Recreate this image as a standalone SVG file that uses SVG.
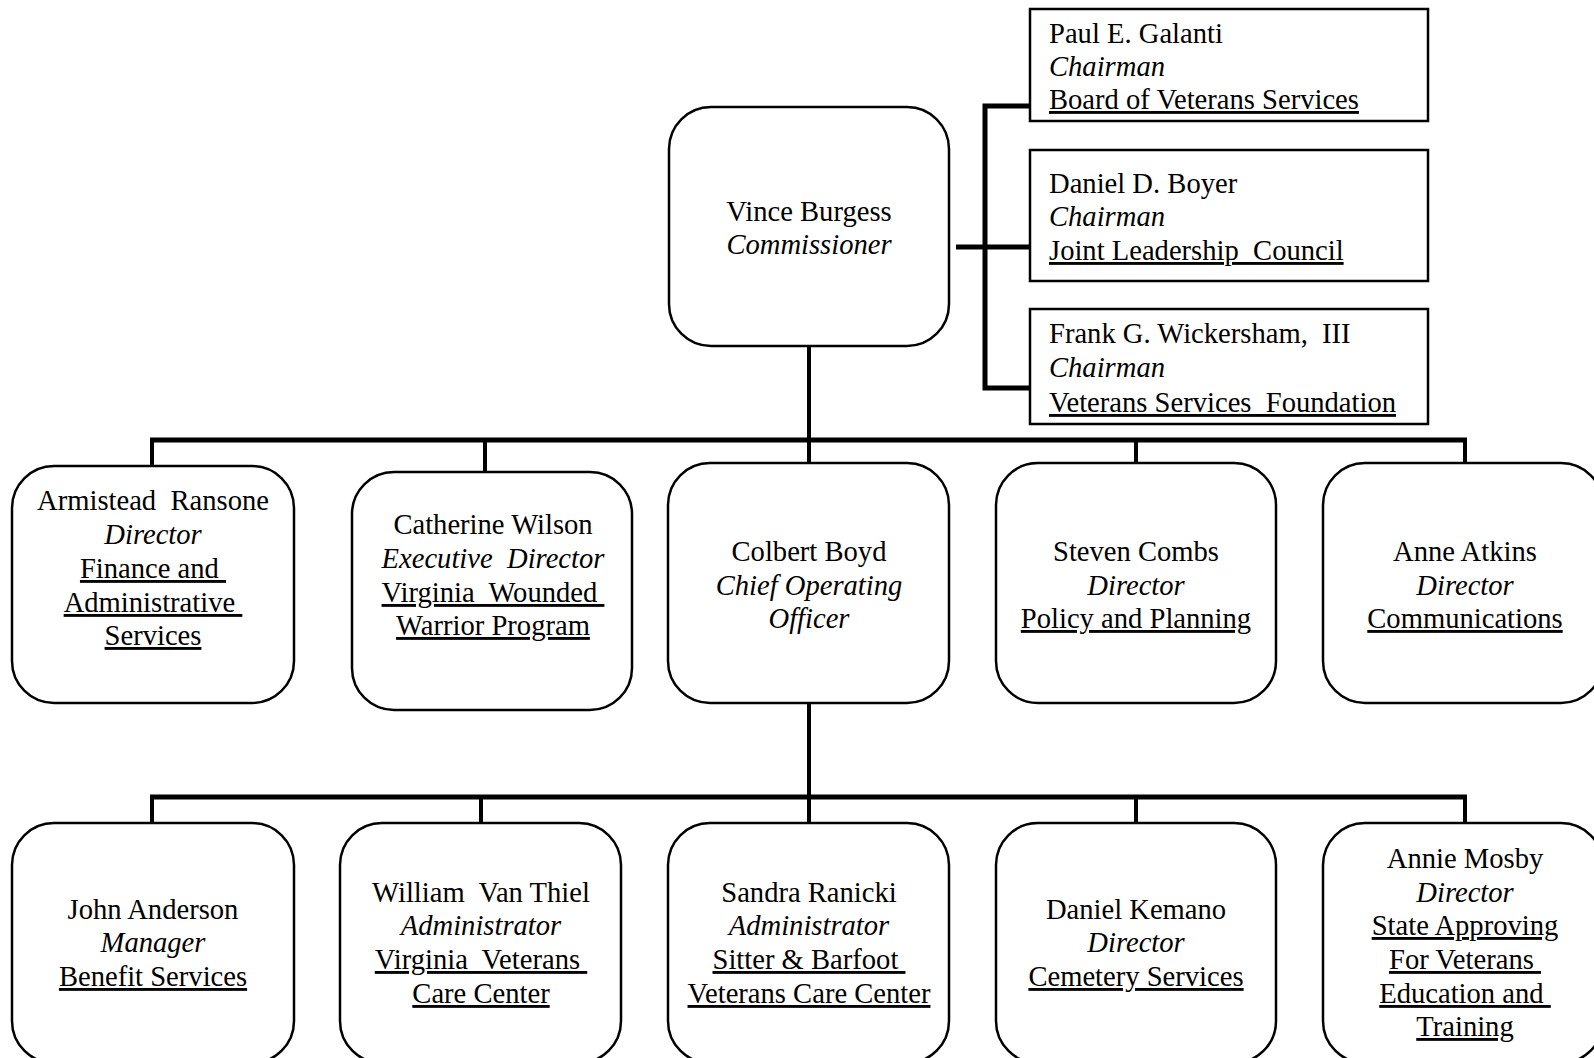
<svg xmlns="http://www.w3.org/2000/svg" width="1594" height="1058" viewBox="0 0 1594 1058">
<style>
text{font-family:"Liberation Serif","Times New Roman",serif;font-size:28.6px;fill:#000;white-space:pre}
.c{text-anchor:middle}
.i{font-style:italic}
.u{text-decoration:underline}
.box{fill:#fff;stroke:#000;stroke-width:2.5}
.bar{stroke:#000;stroke-width:5;fill:none}
.drop{stroke:#000;stroke-width:4;fill:none}
</style>
<rect width="1594" height="1058" fill="#fff"/>
<g id="connectors">
<path class="bar" d="M985 106V388M982.5 106H1030M982.5 388H1030M956 247H1030"/>
<path class="drop" d="M809 346V823"/>
<path class="bar" d="M150 440H1467M150 797H1467"/>
<path class="drop" d="M152 438V466M485 438V472M1136 438V463M1465 438V463"/>
<path class="drop" d="M152 795V823M481 795V823M1136 795V823M1465 795V823"/>
</g>
<g id="board">
<rect class="box" x="1030" y="9" width="398" height="112"/>
<text x="1049" y="43">Paul E. Galanti</text>
<text x="1049" y="76" class="i">Chairman</text>
<text x="1049" y="109" class="u">Board of Veterans Services</text>
</g>
<g id="jlc">
<rect class="box" x="1030" y="150" width="398" height="131"/>
<text x="1049" y="193">Daniel D. Boyer</text>
<text x="1049" y="226" class="i">Chairman</text>
<text x="1049" y="260" class="u">Joint Leadership  Council</text>
</g>
<g id="vsf">
<rect class="box" x="1030" y="309" width="398" height="115"/>
<text x="1049" y="343">Frank G. Wickersham,  III</text>
<text x="1049" y="377" class="i">Chairman</text>
<text x="1049" y="412" class="u">Veterans Services  Foundation</text>
</g>
<g id="commissioner">
<rect class="box" x="669" y="107" width="280" height="239" rx="42"/>
<text x="809" y="221" class="c">Vince Burgess</text>
<text x="809" y="254" class="c i">Commissioner</text>
</g>
<g id="ransone">
<rect class="box" x="12" y="466" width="282" height="237" rx="42"/>
<text x="153" y="510" class="c">Armistead  Ransone</text>
<text x="153" y="544" class="c i">Director</text>
<text x="153" y="578" class="c u">Finance and </text>
<text x="153" y="612" class="c u">Administrative </text>
<text x="153" y="645" class="c u">Services</text>
</g>
<g id="wilson">
<rect class="box" x="352" y="472" width="280" height="238" rx="42"/>
<text x="493" y="534" class="c">Catherine Wilson</text>
<text x="493" y="568" class="c i">Executive  Director</text>
<text x="493" y="602" class="c u">Virginia  Wounded </text>
<text x="493" y="635" class="c u">Warrior Program</text>
</g>
<g id="boyd">
<rect class="box" x="668" y="463" width="281" height="240" rx="42"/>
<text x="809" y="561" class="c">Colbert Boyd</text>
<text x="809" y="595" class="c i">Chief Operating</text>
<text x="809" y="628" class="c i">Officer</text>
</g>
<g id="combs">
<rect class="box" x="996" y="463" width="280" height="240" rx="42"/>
<text x="1136" y="561" class="c">Steven Combs</text>
<text x="1136" y="595" class="c i">Director</text>
<text x="1136" y="628" class="c u">Policy and Planning</text>
</g>
<g id="atkins">
<rect class="box" x="1323" y="463" width="280" height="240" rx="42"/>
<text x="1465" y="561" class="c">Anne Atkins</text>
<text x="1465" y="595" class="c i">Director</text>
<text x="1465" y="628" class="c u">Communications</text>
</g>
<g id="anderson">
<rect class="box" x="12" y="823" width="282" height="240" rx="42"/>
<text x="153" y="919" class="c">John Anderson</text>
<text x="153" y="952" class="c i">Manager</text>
<text x="153" y="986" class="c u">Benefit Services</text>
</g>
<g id="vanthiel">
<rect class="box" x="340" y="823" width="281" height="240" rx="42"/>
<text x="481" y="902" class="c">William  Van Thiel</text>
<text x="481" y="935" class="c i">Administrator</text>
<text x="481" y="969" class="c u">Virginia  Veterans </text>
<text x="481" y="1003" class="c u">Care Center</text>
</g>
<g id="ranicki">
<rect class="box" x="668" y="823" width="281" height="240" rx="42"/>
<text x="809" y="902" class="c">Sandra Ranicki</text>
<text x="809" y="935" class="c i">Administrator</text>
<text x="809" y="969" class="c u">Sitter &amp; Barfoot </text>
<text x="809" y="1003" class="c u">Veterans Care Center</text>
</g>
<g id="kemano">
<rect class="box" x="996" y="823" width="280" height="240" rx="42"/>
<text x="1136" y="919" class="c">Daniel Kemano</text>
<text x="1136" y="952" class="c i">Director</text>
<text x="1136" y="986" class="c u">Cemetery Services</text>
</g>
<g id="mosby">
<rect class="box" x="1323" y="823" width="280" height="240" rx="42"/>
<text x="1465" y="868" class="c">Annie Mosby</text>
<text x="1465" y="902" class="c i">Director</text>
<text x="1465" y="935" class="c u">State Approving</text>
<text x="1465" y="969" class="c u">For Veterans </text>
<text x="1465" y="1003" class="c u">Education and </text>
<text x="1465" y="1036" class="c u">Training</text>
</g>
</svg>
